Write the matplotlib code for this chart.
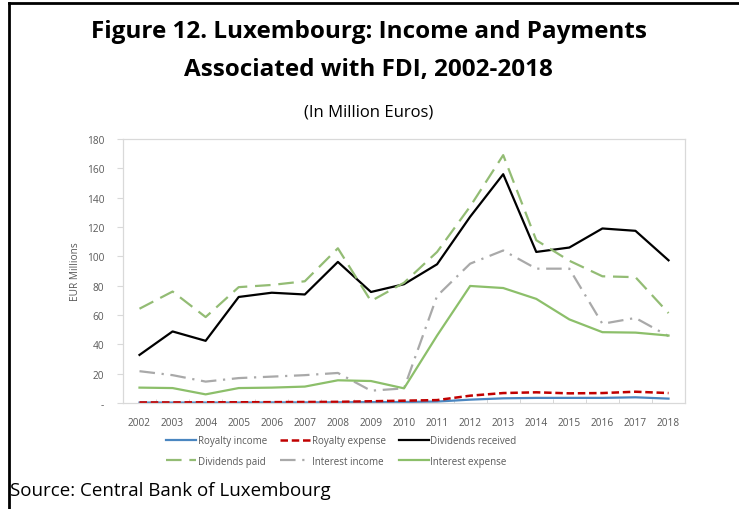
import matplotlib
matplotlib.use("Agg")
import matplotlib.pyplot as plt
from matplotlib.lines import Line2D

plt.rcParams['font.family'] = ['Open Sans', 'DejaVu Sans']

anos = [str(a) for a in range(2002, 2019)]

royalty_income = [0.3, 0.3, 0.3, 0.3, 0.4, 0.4, 0.5, 0.6, 0.7, 1.0, 2.3, 3.2, 3.5, 3.5, 3.5, 3.9, 3.0]
royalty_expense = [0.4, 0.4, 0.5, 0.5, 0.6, 0.7, 0.8, 1.2, 1.6, 2.0, 5.0, 6.8, 7.3, 6.6, 6.8, 7.7, 6.8]
dividendos_recebidos = [32.8, 48.8, 42.4, 72.3, 75.2, 74.0, 96.2, 75.7, 81.0, 94.6, 127, 156, 103, 106, 119, 117.4, 97.3]
dividendos_pagos = [64.3, 76.0, 58.6, 79.0, 80.5, 83.0, 105.5, 69.5, 82.0, 103, 134, 169, 111, 97, 86.4, 85.8, 61.3]
juros_recebidos = [21.7, 19.0, 14.6, 17.0, 18.0, 19.0, 20.5, 8.4, 10.0, 73.0, 95.0, 104, 91.6, 91.6, 54.0, 58.0, 45.6]
juros_pagos = [10.5, 10.2, 5.9, 10.2, 10.5, 11.2, 15.5, 15.0, 10.0, 46.0, 79.8, 78.4, 71.0, 57.0, 48.3, 48.0, 46.0]

yticks = [0, 20, 40, 60, 80, 100, 120, 140, 160, 180]
ytick_labels = ['-', '20', '40', '60', '80', '100', '120', '140', '160', '180']

series = [
    ('Royalty income', royalty_income, dict(color='#4A86C0', ls='-', lw=1.6)),
    ('Royalty expense', royalty_expense, dict(color='#C00000', ls=(0, (3, 1.5)), lw=1.8)),
    ('Dividends received', dividendos_recebidos, dict(color='#000000', ls='-', lw=1.6)),
    ('Dividends paid', dividendos_pagos, dict(color='#93BC74', ls=(0, (7, 3.5)), lw=1.6)),
    ('Interest income', juros_recebidos, dict(color='#A9A9A9', ls=(0, (7, 3, 1, 3)), lw=1.6)),
    ('Interest expense', juros_pagos, dict(color='#8CBF6A', ls='-', lw=1.6)),
]

fig = plt.figure(figsize=(7.39, 5.10), dpi=100)
ax = fig.add_axes([0.1664, 0.2078, 0.7606, 0.5177])

x = list(range(len(anos)))
for nome, vals, estilo in series:
    ax.plot(x, vals, label=nome, **estilo)

ax.set_xlim(-0.5, len(anos) - 0.5)
ax.set_ylim(0, 180)
ax.set_xticks(x)
ax.set_xticklabels(anos)
ax.set_xticks([i + 0.5 for i in range(-1, len(anos))], minor=True)
ax.set_yticks(yticks)
ax.set_yticklabels(ytick_labels)
ax.tick_params(axis='x', which='major', length=0, labelsize=7.3, labelcolor='#595959', pad=10)
ax.tick_params(axis='x', which='minor', length=3, direction='in', color='#D0D0D0')
ax.tick_params(axis='y', length=4, color='#D9D9D9', labelsize=7.3, labelcolor='#595959', pad=9.5)
for s in ax.spines.values():
    s.set_color('#D9D9D9')
    s.set_linewidth(0.9)
ax.set_ylabel('EUR Millions', fontsize=7.3, color='#595959', labelpad=4)

# legenda em linhas: matplotlib preenche por coluna, entao reordena
ordem = [0, 3, 1, 4, 2, 5]
handles = [Line2D([0], [0], **series[i][2]) for i in ordem]
labels = [series[i][0] for i in ordem]
fig.legend(handles, labels, loc='center', bbox_to_anchor=(0.462, 0.114),
           ncol=3, frameon=False, fontsize=7, labelcolor='#595959',
           handlelength=3.1, handletextpad=0.15, columnspacing=1.35, labelspacing=1.0)

fig.text(0.4987, 1 - 38 / 510, 'Figure 12. Luxembourg: Income and Payments',
         ha='center', va='baseline', fontsize=17.5, fontweight='bold')
fig.text(0.4987, 1 - 76 / 510, 'Associated with FDI, 2002-2018',
         ha='center', va='baseline', fontsize=17.5, fontweight='bold')
fig.text(0.4987, 1 - 117 / 510, '(In Million Euros)', ha='center', va='baseline', fontsize=12)
fig.text(0.014, 1 - 496 / 510, 'Source: Central Bank of Luxembourg', ha='left', va='baseline', fontsize=13.5)

# moldura preta (topo e esquerda)
fig.add_artist(Line2D([0.012, 1.0], [0.992, 0.992], color='black', lw=2, transform=fig.transFigure))
fig.add_artist(Line2D([0.012, 0.012], [0.0, 0.992], color='black', lw=2, transform=fig.transFigure))

plt.savefig('out.png', dpi=100)
plt.close()
